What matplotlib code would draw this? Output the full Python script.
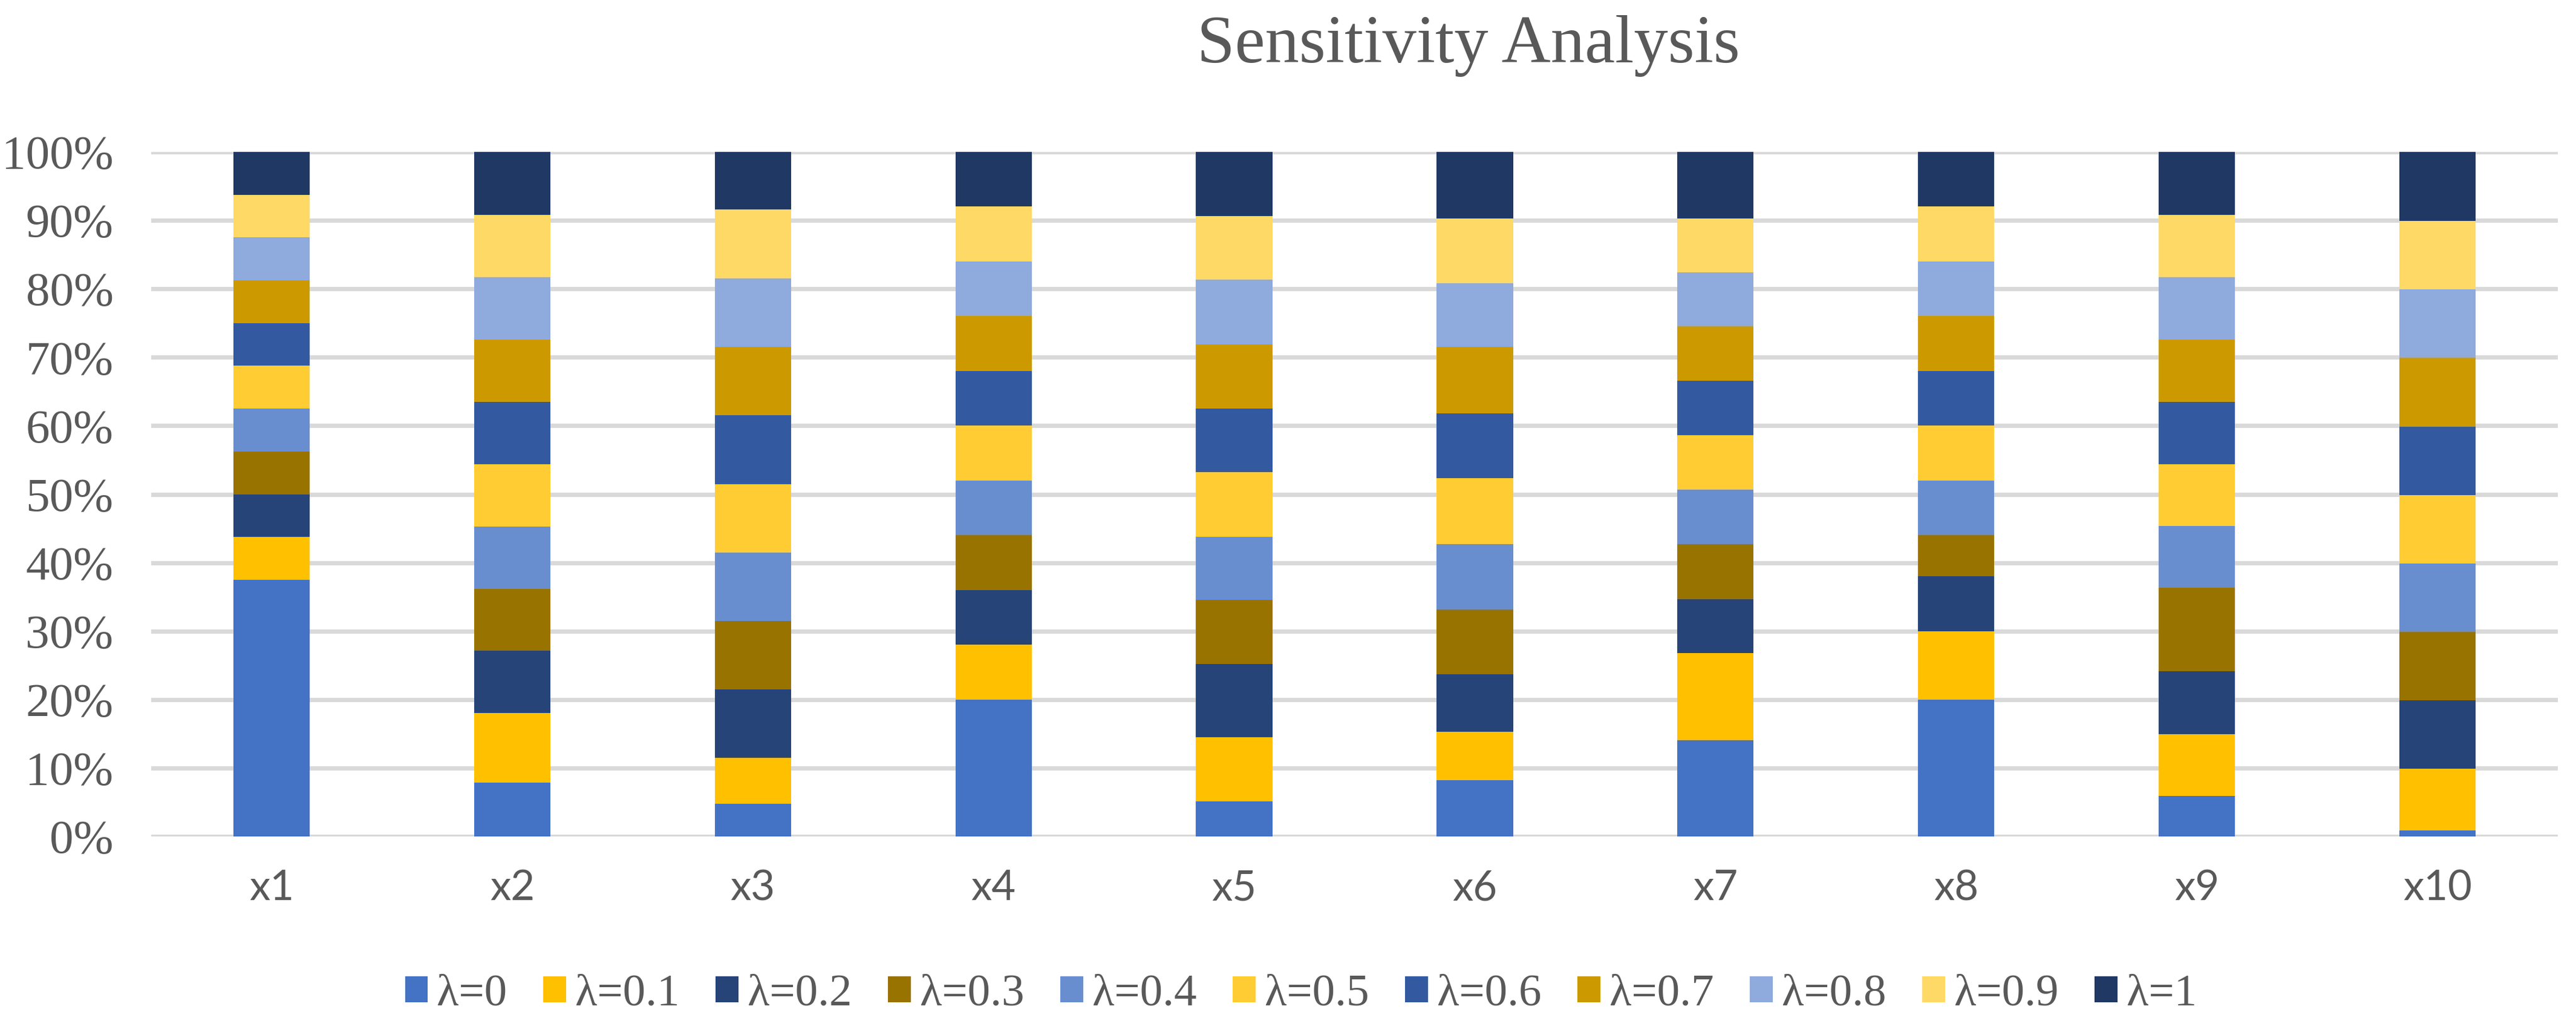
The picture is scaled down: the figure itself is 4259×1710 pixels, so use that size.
import matplotlib
matplotlib.use("Agg")
import matplotlib.pyplot as plt
import numpy as np

plt.rcParams["font.family"] = ["Liberation Serif", "DejaVu Serif"]

# shares (%) per category, one list per lambda series
categories = ["x1", "x2", "x3", "x4", "x5", "x6", "x7", "x8", "x9", "x10"]
series_labels = ["λ=0", "λ=0.1", "λ=0.2", "λ=0.3", "λ=0.4", "λ=0.5",
                 "λ=0.6", "λ=0.7", "λ=0.8", "λ=0.9", "λ=1"]
lam_0   = [37.5, 7.9, 4.8, 20.0, 5.1, 8.2, 14.1, 20.0, 5.9, 0.9]
lam_0_1 = [6.25, 10.1, 6.7, 8.0, 9.4, 7.1, 12.7, 10.0, 9.0, 9.0]
lam_0_2 = [6.25, 9.1, 10.0, 8.0, 10.7, 8.4, 7.9, 8.0, 9.2, 10.0]
lam_0_3 = [6.25, 9.1, 10.0, 8.0, 9.4, 9.5, 8.0, 6.0, 12.2, 10.0]
lam_0_4 = [6.25, 9.1, 10.0, 8.0, 9.2, 9.5, 8.0, 8.0, 9.1, 10.0]
lam_0_5 = [6.25, 9.1, 10.0, 8.0, 9.4, 9.6, 7.9, 8.0, 9.0, 10.0]
lam_0_6 = [6.25, 9.1, 10.0, 8.0, 9.3, 9.5, 8.0, 8.0, 9.1, 10.0]
lam_0_7 = [6.25, 9.1, 10.0, 8.0, 9.4, 9.7, 7.9, 8.0, 9.1, 10.0]
lam_0_8 = [6.25, 9.1, 10.0, 8.0, 9.4, 9.3, 7.9, 8.0, 9.1, 10.0]
lam_0_9 = [6.25, 9.1, 10.1, 8.0, 9.3, 9.5, 7.9, 8.0, 9.1, 10.0]
lam_1   = [6.25, 9.2, 8.4, 8.0, 9.4, 9.7, 9.7, 8.0, 9.2, 10.1]
series = [lam_0, lam_0_1, lam_0_2, lam_0_3, lam_0_4, lam_0_5,
          lam_0_6, lam_0_7, lam_0_8, lam_0_9, lam_1]
colors = ["#4472C4", "#FFC000", "#264478", "#997300", "#698ED0", "#FFCD33",
          "#335AA1", "#CC9A00", "#8FAADC", "#FFD966", "#203864"]

fig = plt.figure(figsize=(4259 / 300, 1710 / 300), dpi=300)
ax = fig.add_axes([250 / 4259, 1 - 1382 / 1710, (4229 - 250) / 4259, (1382 - 251) / 1710])

x = np.arange(len(categories))
data = np.array(series, dtype=float)
data = data / data.sum(axis=0) * 100  # 100% stacked
bottom = np.zeros(len(categories))
for vals, lab, col in zip(data, series_labels, colors):
    ax.bar(x, vals, 0.317, bottom=bottom, color=col, label=lab, zorder=3, linewidth=0)
    bottom += vals

ax.set_xlim(-0.5, len(categories) - 0.5)
ax.set_ylim(0, 100)
ax.set_yticks(np.arange(0, 101, 10))
ax.set_yticklabels([f"{v}%" for v in range(0, 101, 10)])
ax.set_xticks(x)
ax.set_xticklabels(categories, family=["Lato", "DejaVu Sans"], fontsize=16.5)
ax.tick_params(axis="both", length=0, colors="#595959")
ax.tick_params(axis="y", pad=15, labelsize=19)
ax.tick_params(axis="x", pad=13)
ax.grid(axis="y", color="#D9D9D9", lw=1.7, zorder=0)
for s in ax.spines.values():
    s.set_visible(False)

fig.text(0.570, 1 - 76 / 1710, "Sensitivity Analysis", ha="center", va="center",
         fontsize=27, color="#595959")

leg = fig.legend(loc="center", bbox_to_anchor=(0.505, 1 - 1643 / 1710), ncol=11,
                 frameon=False, fontsize=18, handlelength=0.5, handleheight=0.5,
                 handletextpad=0.2, columnspacing=0.8)
for t in leg.get_texts():
    t.set_color("#595959")

fig.savefig("out.png", dpi=300)
